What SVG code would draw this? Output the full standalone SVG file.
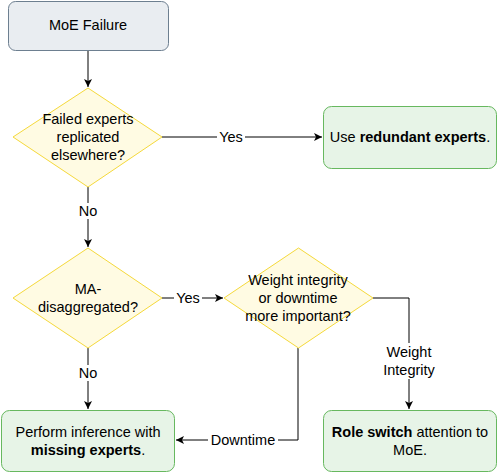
<svg xmlns="http://www.w3.org/2000/svg" width="498" height="474" viewBox="0 0 498 474">
<defs>
<style>
text{font-family:"Liberation Sans",Arial,sans-serif;font-size:14.5px;fill:#000;text-anchor:middle}
.b{font-weight:bold}
.start{fill:#e9edf1;stroke:#6d7f90;stroke-width:1}
.dec{fill:#fffbe3;stroke:#f5d93a;stroke-width:1}
.res{fill:#e7f4e7;stroke:#67b85f;stroke-width:1}
.edge{fill:none;stroke:#000;stroke-width:1}
.lbg{fill:#fff}
</style>
<marker id="ah" markerWidth="10" markerHeight="10" refX="9" refY="5" orient="auto" markerUnits="userSpaceOnUse">
<path d="M1,1 L9,5 L1,9 L3,5 Z" fill="#000"/>
</marker>
</defs>
<g id="connectors">
<path class="edge" d="M88,50 V87" marker-end="url(#ah)"/>
<path class="edge" d="M162,137 H322" marker-end="url(#ah)"/>
<path class="edge" d="M88,187 V247" marker-end="url(#ah)"/>
<path class="edge" d="M162,298 H223" marker-end="url(#ah)"/>
<path class="edge" d="M373,298 H409 V409" marker-end="url(#ah)"/>
<path class="edge" d="M298,348 V440 H176" marker-end="url(#ah)"/>
<path class="edge" d="M88,348 V409" marker-end="url(#ah)"/>
<rect class="lbg" x="217" y="129" width="28" height="16"/>
<text x="231" y="142">Yes</text>
<rect class="lbg" x="76" y="203" width="24" height="16"/>
<text x="88" y="216">No</text>
<rect class="lbg" x="174" y="290" width="28" height="16"/>
<text x="188" y="303">Yes</text>
<rect class="lbg" x="76" y="365" width="24" height="16"/>
<text x="88" y="378">No</text>
<rect class="lbg" x="208" y="432" width="70" height="16"/>
<text x="243" y="445">Downtime</text>
<rect class="lbg" x="378" y="343" width="62" height="36"/>
<text x="409" y="357">Weight</text>
<text x="409" y="375">Integrity</text>
</g>
<g id="moe-failure">
<rect class="start" x="8.5" y="1.5" width="160" height="49" rx="7"/>
<text x="88" y="30">MoE Failure</text>
</g>
<g id="replicated">
<path class="dec" d="M88,88 L162,137 L88,187 L13,137 Z"/>
<text x="88" y="124">Failed experts</text>
<text x="88" y="142">replicated</text>
<text x="88" y="160">elsewhere?</text>
</g>
<g id="redundant">
<rect class="res" x="323.5" y="106.5" width="173" height="62" rx="8"/>
<text x="410" y="142">Use <tspan class="b">redundant experts</tspan>.</text>
</g>
<g id="ma-disaggregated">
<path class="dec" d="M88,248 L162,298 L88,348 L13,298 Z"/>
<text x="88" y="294">MA-</text>
<text x="88" y="312">disaggregated?</text>
</g>
<g id="weight-or-downtime">
<path class="dec" d="M298.5,248 L373,298 L298.5,348 L224,298 Z"/>
<text x="298" y="285">Weight integrity</text>
<text x="298" y="303">or downtime</text>
<text x="298" y="321">more important?</text>
</g>
<g id="missing-experts">
<rect class="res" x="1.5" y="410.5" width="173" height="61" rx="8"/>
<text x="88" y="437">Perform inference with</text>
<text x="88" y="455" class="b">missing experts<tspan font-weight="normal">.</tspan></text>
</g>
<g id="role-switch">
<rect class="res" x="323.5" y="410.5" width="173" height="61" rx="8"/>
<text x="410" y="437"><tspan class="b">Role switch</tspan> attention to</text>
<text x="410" y="455">MoE.</text>
</g>
</svg>
